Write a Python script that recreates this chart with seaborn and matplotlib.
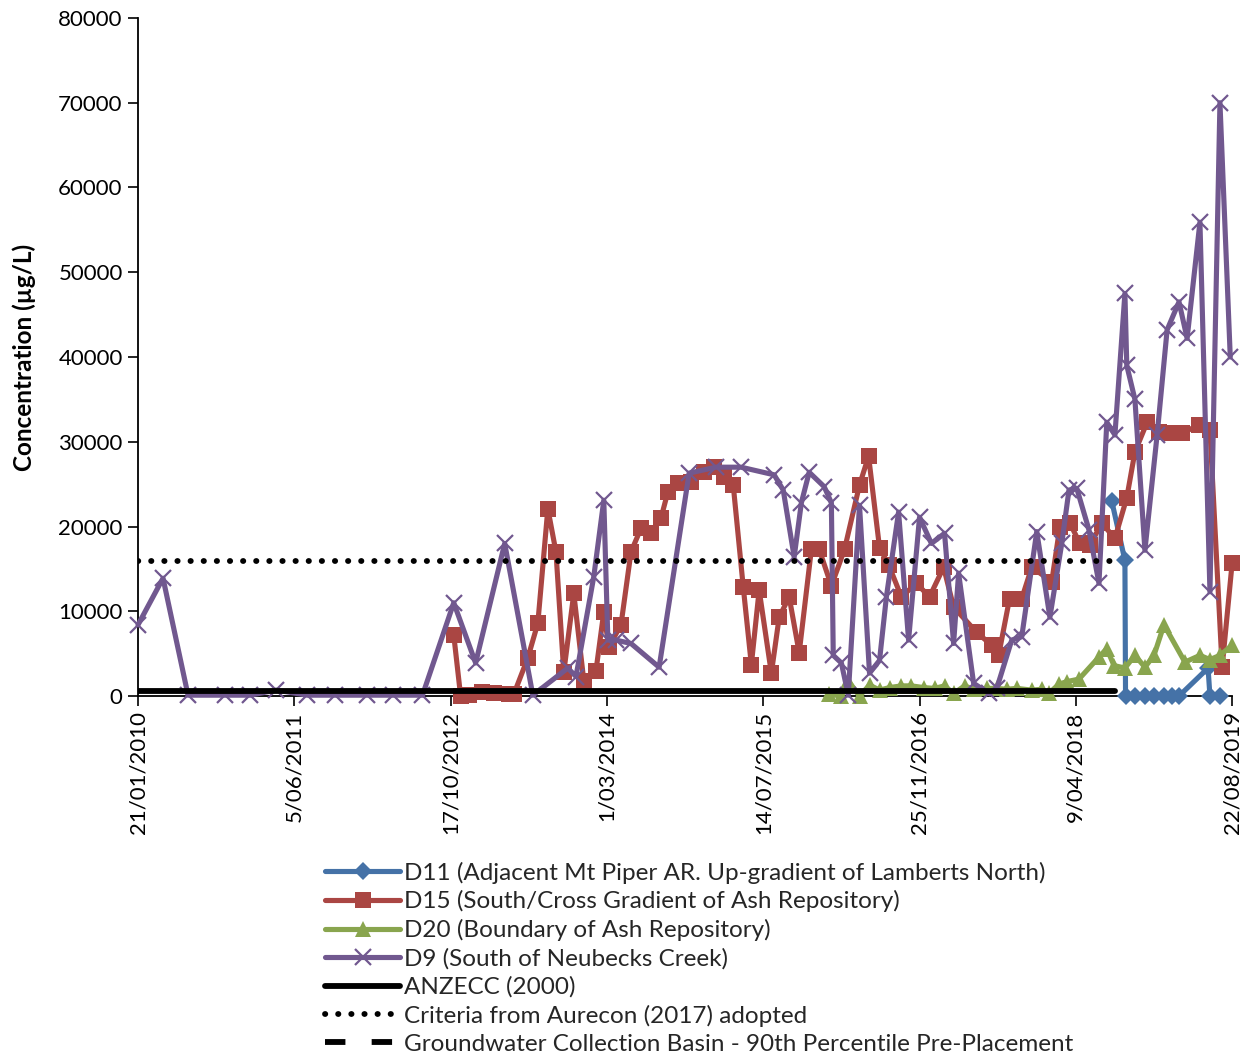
import matplotlib
matplotlib.use("Agg")
import matplotlib.pyplot as plt
from matplotlib.lines import Line2D
import pandas as pd
import seaborn as sns

# ---- monitoring data (µg/L) ----
d11_dates = ["2018-08-02", "2018-09-13", "2018-09-15", "2018-10-15", "2018-11-16",
             "2018-12-15", "2019-01-16", "2019-02-11", "2019-03-05", "2019-06-06",
             "2019-06-12", "2019-07-14"]
d11_vals = [23000, 16000, 0, 0, 0, 0, 0, 0, 0, 3300, 0, 0]

d15_dates = ["2012-10-27", "2012-11-18", "2012-12-14", "2013-01-24", "2013-03-04",
             "2013-04-21", "2013-05-07", "2013-06-21", "2013-07-23", "2013-08-24",
             "2013-09-19", "2013-10-14", "2013-11-15", "2013-12-17", "2014-01-25",
             "2014-02-19", "2014-03-07", "2014-04-15", "2014-05-17", "2014-06-18",
             "2014-07-20", "2014-08-21", "2014-09-12", "2014-10-15", "2014-11-25",
             "2015-01-06", "2015-02-07", "2015-03-11", "2015-04-09", "2015-05-11",
             "2015-06-06", "2015-07-01", "2015-08-09", "2015-09-03", "2015-10-05",
             "2015-11-06", "2015-12-15", "2016-01-09", "2016-02-17", "2016-03-30",
             "2016-05-17", "2016-06-15", "2016-07-20", "2016-08-18", "2016-09-28",
             "2016-11-15", "2016-12-27", "2017-02-10", "2017-03-14", "2017-05-27",
             "2017-07-14", "2017-08-05", "2017-09-09", "2017-10-18", "2017-11-19",
             "2018-01-22", "2018-02-17", "2018-03-21", "2018-04-22", "2018-05-24",
             "2018-07-01", "2018-08-12", "2018-09-19", "2018-10-15", "2018-11-23",
             "2018-12-31", "2019-02-11", "2019-03-15", "2019-05-08", "2019-06-12",
             "2019-07-21", "2019-08-22"]
d15_vals = [7200, 0, 100, 500, 300,
            200, 200, 4500, 8600, 22100,
            17000, 2800, 12100, 1800, 3000,
            9900, 5800, 8400, 17000, 19800,
            19200, 21000, 24100, 25100, 25300,
            26400, 27000, 25800, 24900, 12900,
            3700, 12500, 2700, 9300, 11700,
            5100, 17300, 17300, 13000, 17300,
            24900, 28300, 17500, 15500, 11700,
            13300, 11700, 15200, 10500, 7500,
            6000, 4800, 11500, 11500, 15200,
            13500, 20000, 20400, 18000, 17800,
            20400, 18600, 23400, 28800, 32300,
            31200, 31000, 31000, 32000, 31400,
            3400, 15700]

d20_dates = ["2016-02-10", "2016-03-20", "2016-04-11", "2016-05-17", "2016-06-18",
             "2016-07-20", "2016-08-21", "2016-09-28", "2016-10-30", "2016-12-08",
             "2017-01-12", "2017-02-13", "2017-03-14", "2017-04-18", "2017-05-17",
             "2017-06-28", "2017-07-30", "2017-08-31", "2017-10-02", "2017-11-19",
             "2017-12-21", "2018-01-12", "2018-02-14", "2018-03-11", "2018-04-19",
             "2018-06-22", "2018-07-17", "2018-08-09", "2018-09-13", "2018-10-15",
             "2018-11-16", "2018-12-15", "2019-01-16", "2019-03-24", "2019-05-11",
             "2019-06-12", "2019-07-14", "2019-08-22"]
d20_vals = [200, 0, 1800, 0, 1300,
            700, 1000, 1200, 1200, 1000,
            900, 1200, 300, 1200, 800,
            900, 900, 800, 900, 700,
            800, 300, 1400, 1700, 2000,
            4600, 5600, 3600, 3300, 4800,
            3400, 4800, 8400, 4000, 4800,
            4300, 4800, 6000]

d9_dates = ["2010-01-21", "2010-04-11", "2010-06-30", "2010-10-27", "2011-01-15",
            "2011-04-08", "2011-07-17", "2011-10-14", "2012-01-25", "2012-04-17",
            "2012-07-19", "2012-10-27", "2013-01-05", "2013-04-08", "2013-07-07",
            "2013-10-27", "2013-11-22", "2014-01-18", "2014-02-19", "2014-03-04",
            "2014-03-30", "2014-05-17", "2014-08-15", "2014-11-19", "2015-02-13",
            "2015-05-04", "2015-08-18", "2015-09-16", "2015-10-21", "2015-11-13",
            "2015-12-08", "2016-01-25", "2016-02-17", "2016-02-23", "2016-03-20",
            "2016-04-11", "2016-05-17", "2016-06-18", "2016-07-20", "2016-08-11",
            "2016-09-19", "2016-10-21", "2016-11-25", "2017-01-02", "2017-02-13",
            "2017-03-14", "2017-03-30", "2017-05-17", "2017-07-04", "2017-07-30",
            "2017-09-16", "2017-10-18", "2017-12-05", "2018-01-16", "2018-02-23",
            "2018-03-18", "2018-04-12", "2018-05-21", "2018-06-22", "2018-07-17",
            "2018-08-12", "2018-09-13", "2018-09-19", "2018-10-15", "2018-11-16",
            "2018-12-25", "2019-01-26", "2019-03-05", "2019-03-31", "2019-05-11",
            "2019-06-12", "2019-07-14", "2019-08-16"]
d9_vals = [8400, 13900, 100, 100, 100,
           700, 100, 100, 100, 100,
           100, 11000, 3900, 18000, 100,
           3300, 2300, 14100, 23100, 6600,
           6600, 6200, 3400, 26300, 27000,
           27000, 26100, 24300, 16400, 22800,
           26400, 24700, 22800, 4800, 3900,
           100, 22500, 2700, 4200, 11700,
           21700, 6600, 21100, 18000, 19200,
           6200, 14500, 1500, 350, 900,
           6600, 7000, 19400, 9300, 18000,
           24300, 24500, 19600, 13300, 32300,
           30800, 47500, 39000, 35000, 17200,
           30800, 43200, 46500, 42200, 55900,
           12300, 70000, 40000]

# guideline values and the period over which they are shown
anzecc_value = 600
aurecon_value = 15900
guideline_dates = ["2010-01-21", "2018-08-12"]

series_labels = ["D11 (Adjacent Mt Piper AR. Up-gradient of Lamberts North)",
                 "D15 (South/Cross Gradient of Ash Repository)",
                 "D20 (Boundary of Ash Repository)",
                 "D9 (South of Neubecks Creek)"]
anzecc_label = "ANZECC (2000)"
aurecon_label = "Criteria from Aurecon (2017) adopted"
basin_label = "Groundwater Collection Basin - 90th Percentile Pre-Placement"

x_start, x_end = "2010-01-21", "2019-08-22"
tick_step_days = 500
y_ticks = list(range(0, 80001, 10000))

# ---- styling ----
sns.set_theme(style="white")
plt.rcParams["font.family"] = ["Lato", "DejaVu Sans"]

fig = plt.figure(figsize=(12.49, 10.57), dpi=100)
ax = fig.add_axes([0.1105, 0.3415, 0.876, 0.6415])

colors = ["#4572A7", "#AA4643", "#89A54E", "#71588F"]
styles = [
    dict(marker="D", markersize=9, markeredgewidth=0),
    dict(marker="s", markersize=11, markeredgewidth=0),
    dict(marker="^", markersize=11, markeredgewidth=0),
    dict(marker="x", markersize=12, markeredgewidth=1.6),
]
all_series = [(d11_dates, d11_vals), (d15_dates, d15_vals),
              (d20_dates, d20_vals), (d9_dates, d9_vals)]

for (dts, vals), lab, col, st in zip(all_series, series_labels, colors, styles):
    sns.lineplot(x=pd.to_datetime(dts), y=vals, ax=ax, sort=False, estimator=None,
                 linewidth=3.7, label=lab, clip_on=False, zorder=3,
                 color=col, markeredgecolor=col, markerfacecolor=col, **st)

g_dates = pd.to_datetime(guideline_dates)
sns.lineplot(x=g_dates, y=[anzecc_value] * 2, ax=ax, color="black", linewidth=4.2,
             solid_capstyle="round", label=anzecc_label, zorder=4, estimator=None)
sns.lineplot(x=g_dates, y=[aurecon_value] * 2, ax=ax, color="black", linewidth=4.2,
             linestyle=(0, (0.05, 2.2)), dash_capstyle="round", label=aurecon_label,
             zorder=4, estimator=None)

# axes limits and ticks
x0, x1 = pd.Timestamp(x_start), pd.Timestamp(x_end)
ax.set_xlim(x0, x1)
ax.set_ylim(0, 80000)
tick_dates = pd.date_range(x0, x1, freq=f"{tick_step_days}D")
ax.set_xticks(tick_dates)
ax.set_xticklabels([f"{d.day}/{d.month:02d}/{d.year}" for d in tick_dates],
                   rotation=90, fontsize=16, color="black")
ax.set_yticks(y_ticks)
ax.set_yticklabels([str(v) for v in y_ticks], fontsize=16, color="black")
ax.tick_params(axis="both", direction="out", length=7, width=1.2, color="black",
               bottom=True, left=True, pad=4)
ax.set_xlabel("")
ax.set_ylabel("Concentration (µg/L)", fontsize=17.5, fontweight="bold", color="black",
              labelpad=16)

for side in ["top", "right"]:
    ax.spines[side].set_visible(False)
for side in ["left", "bottom"]:
    ax.spines[side].set_color("black")
    ax.spines[side].set_linewidth(1.3)

# legend below the plot
handles, labels = ax.get_legend_handles_labels()
handles.append(Line2D([], [], color="black", linewidth=4.2, linestyle=(0, (3.5, 4.5))))
labels.append(basin_label)
ax.legend(handles, labels, loc="upper left", bbox_to_anchor=(0.171, -0.244),
          frameon=False, fontsize=17.5, handlelength=3.1, handletextpad=0.15,
          labelspacing=0.28, numpoints=1, borderaxespad=0, borderpad=0)

fig.savefig("out.png", dpi=100)
